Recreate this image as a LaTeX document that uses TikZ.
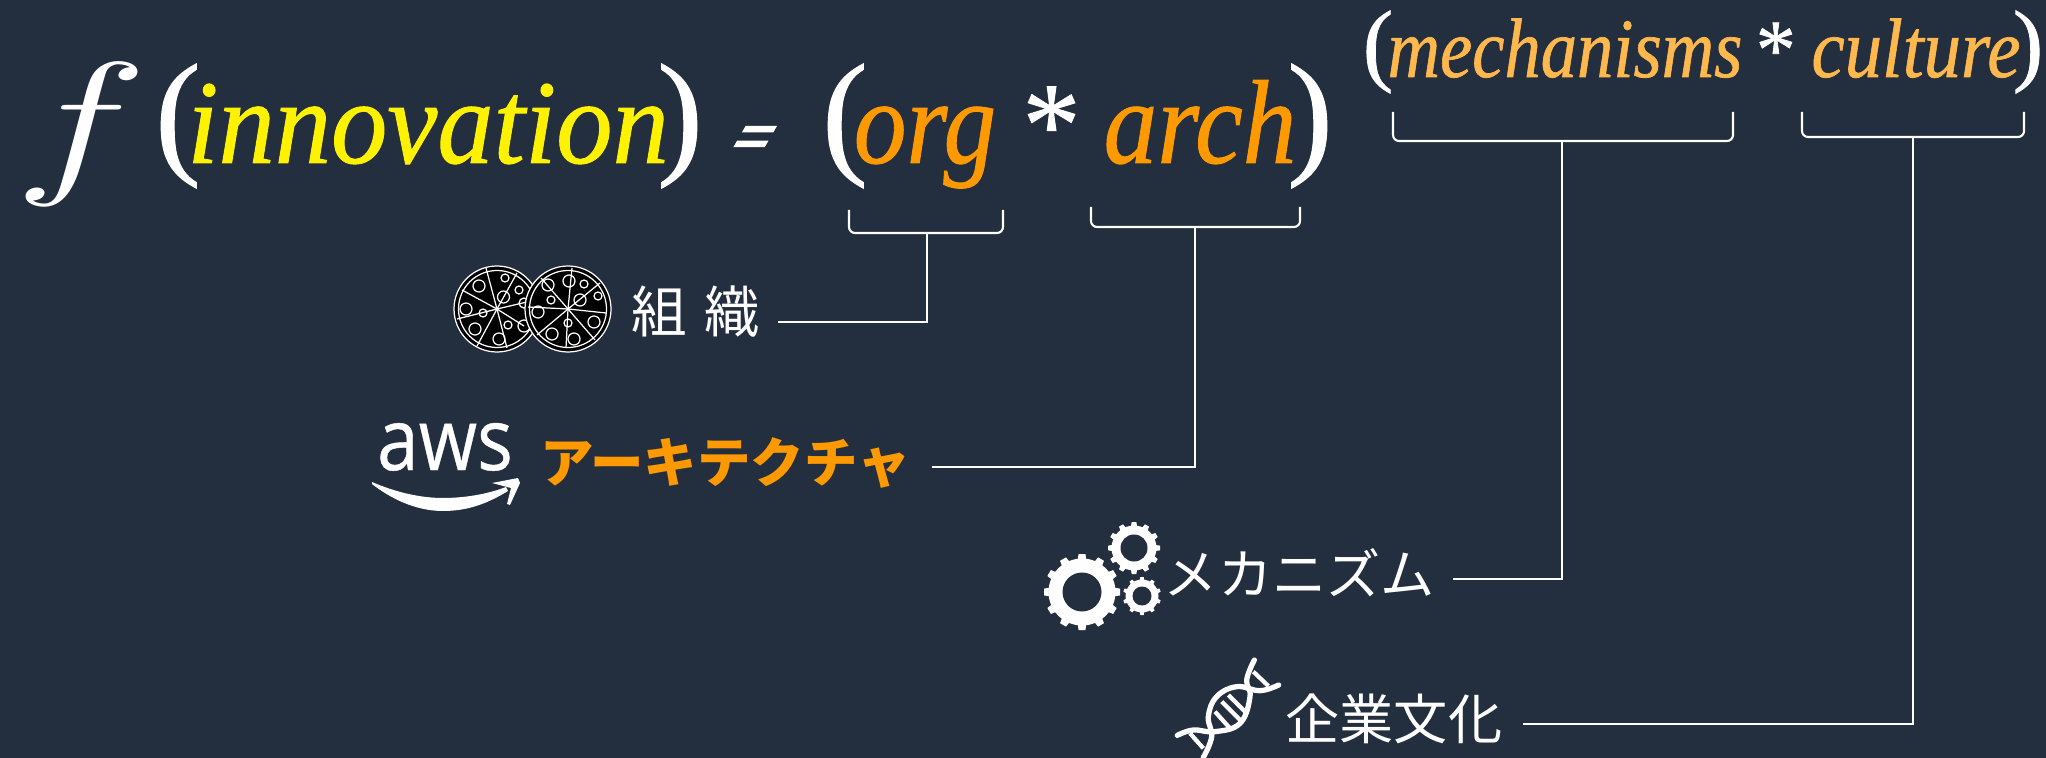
\documentclass[tikz,border=0pt]{standalone}
\usepackage{fontspec}
\setmainfont{Liberation Serif}
\newfontfamily\eqfont[FakeBold=0.8]{Liberation Serif}
\newfontfamily\eqsign[FakeSlant=0.7,FakeBold=4]{Liberation Serif}
\newfontfamily\jpfont{Noto Sans CJK JP}
\newfontfamily\logofont[FakeBold=0.5]{Open Sans}
\usetikzlibrary{calc}

\definecolor{squid}{HTML}{232F3E}
\definecolor{awsorange}{HTML}{FF9900}
\definecolor{softorange}{HTML}{FFB84D}

\newcommand{\gearicon}[5]{% centre, outer, body, hole, teeth
    \fill[white] #1 circle (#3);
    \pgfmathsetmacro{\gearstep}{360/#5}
    \foreach \k in {1,...,#5} {
        \fill[white, shift={#1}, rotate=\k*\gearstep]
            (-0.13*#2,0.75*#2) -- (-0.09*#2,#2) -- (0.09*#2,#2) -- (0.13*#2,0.75*#2) -- cycle;
    }
    \fill[squid] #1 circle (#4);
}

\newcommand{\pizzaicon}[3]{% centre, cuts, toppings
    \begin{scope}[shift={#1}]
        \filldraw[black, draw=white, line width=0.35pt] (0,0) circle (43);
        \draw[white, line width=0.35pt] (0,0) circle (38.5);
        \foreach \dx/\dy in {#2} {
            \draw[white, line width=0.35pt] (0,0) -- (\dx,\dy);
        }
        \foreach \dx/\dy/\r in {#3} {
            \draw[white, line width=0.35pt] (\dx,\dy) circle (\r);
        }
    \end{scope}
}

\begin{document}
\begin{tikzpicture}[x=0.01cm, y=-0.01cm,
    wire/.style = {white, line width=0.6pt},
    brace/.style = {wire, rounded corners=0.6mm},
    eqbig/.style = {inner sep=0pt, anchor=base, xscale=0.88, font=\eqfont\itshape\fontsize{34}{40}\selectfont},
    eqsmall/.style = {inner sep=0pt, anchor=base, xscale=0.86, font=\eqfont\itshape\fontsize{24}{30}\selectfont},
    parbig/.style = {inner sep=0pt, anchor=base, white, font=\eqfont\fontsize{39}{44}\selectfont},
    parsmall/.style = {inner sep=0pt, anchor=base, white, font=\eqfont\fontsize{26}{30}\selectfont},
    labeltext/.style = {white, anchor=east, inner xsep=5pt, inner ysep=0pt, text height=8.6pt, text depth=0pt,
        font=\jpfont\fontsize{15.4}{17}\selectfont},
    strand/.style = {white, line width=1.5pt, line cap=round},
    rung/.style = {white, line width=1.2pt}]

    \fill[squid] (0,0) rectangle (2046,758);
    \useasboundingbox (0,0) rectangle (2046,758);

    % big formula
    \node[inner sep=0pt, anchor=base, white, xscale=3.1, yscale=2.2, font=\fontsize{20}{24}\selectfont] (func) at (81,175) {$f$};
    \node[parbig] (inleft) at (178,159) {(};
    \node[eqbig, yellow, xscale=1.07] (innovation) at (428,163) {innovation};
    \node[parbig] (inright) at (680,159) {)};
    \node[inner sep=0pt, anchor=base, white, xscale=0.62, yscale=0.75, font=\eqsign\fontsize{28}{30}\selectfont] (equals) at (741,161) {=};
    \node[parbig] (orgleft) at (845,159) {(};
    \node[eqbig, awsorange] (org) at (925,163) {org};
    \node[eqbig, white, xscale=1.1] (times) at (1046,165) {*};
    \node[eqbig, awsorange, xscale=1.02] (arch) at (1200,163) {arch};
    \node[parbig] (orgright) at (1310,159) {)};

    \node[parsmall] (mechleft) at (1378,74) {(};
    \node[eqsmall, softorange] (mechanisms) at (1565,77) {mechanisms};
    \node[eqsmall, white, xscale=1.1] (timessmall) at (1772,78) {*};
    \node[eqsmall, softorange, xscale=1.03] (culture) at (1916,77) {culture};
    \node[parsmall] (mechright) at (2028,74) {)};

    % labels
    \node[labeltext, text height=5.9pt, font=\jpfont\fontsize{15.8}{18}\selectfont] (orglabel) at (778,322) {組\hspace{0.3em}織};
    \node[labeltext, awsorange, inner xsep=5.9pt, font=\jpfont\bfseries\fontsize{15.2}{17}\selectfont] (archlabel) at (932,467) {アーキテクチャ};
    \node[labeltext] (mechlabel) at (1453,579) {メカニズム};
    \node[labeltext, inner xsep=5.7pt] (culturelabel) at (1523,724) {企業文化};

    % brackets
    \coordinate (orgtl) at (849,210);
    \coordinate (orgtr) at (1003,210);
    \coordinate (orgstem) at (927,233);
    \coordinate (archtl) at (1091,207);
    \coordinate (archtr) at (1300,207);
    \coordinate (archstem) at (1195,227);
    \coordinate (mechtl) at (1393,112);
    \coordinate (mechtr) at (1733,112);
    \coordinate (mechstem) at (1562,141);
    \coordinate (culttl) at (1802,112);
    \coordinate (culttr) at (2024,112);
    \coordinate (cultstem) at (1913,137);

    \draw[brace] (orgtl) |- (orgstem) -| (orgtr);
    \draw[brace] (archtl) |- (archstem) -| (archtr);
    \draw[brace] (mechtl) |- (mechstem) -| (mechtr);
    \draw[brace] (culttl) |- (cultstem) -| (culttr);

    \draw[wire] (orgstem) |- (orglabel.east);
    \draw[wire] (archstem) |- (archlabel.east);
    \draw[wire] (mechstem) |- (mechlabel.east);
    \draw[wire] (cultstem) |- (culturelabel.east);

    % pizzas
    \pizzaicon{(497,309)}
        {-11/-41, 20/-36, 34/-8, 27/17, 10/39, -20/37, -40/10, -35/-19}
        {-18/-23/6, 8/-31/4, 22/-19/4, 6.5/-12/6, -31/0/6, -14/4/4, -22/20/6, 2/30/6, 11/16/4, 27/17/6, 27/-6/5}
    \pizzaicon{(568,309)}
        {4/-41, 32/-26, 38/4, 27/31, -2/39, -31/26, -40/-2, -27/-31}
        {1/-28/6, 16/-25/4, 30/-13/4, 12/-9/6, -20/-24/6, -17/-9/4, -30/3/6, 26/13/6, 0/14/4, 6/30/6, -16/25/6}

    % aws logo
    \node[inner sep=0pt, anchor=base, white, xscale=0.87, font=\logofont\fontsize{24.5}{28}\selectfont] (awstext) at (445,470) {aws};
    \fill[white] (372,482) .. controls (395,492) and (420,498) .. (443,498)
        .. controls (465,498) and (488,494) .. (506,487)
        -- (508,491) .. controls (490,502) and (470,511) .. (443,511)
        .. controls (415,511) and (390,498) .. (372,484) -- cycle;
    \fill[white] (492,483) -- (518,478) -- (520,483) -- (510,505) -- (507,504) -- (511,488) -- cycle;

    % gears
    \gearicon{(1082,592)}{38}{33.5}{19.5}{12}
    \gearicon{(1134,548)}{26}{22.5}{13.5}{12}
    \gearicon{(1142,596)}{19}{16.5}{9.5}{10}

    % dna
    \begin{scope}[shift={(1020,500)}, scale=1/3]
        \draw[strand] plot [smooth, tension=0.7] coordinates {(703,480) (680,540) (690,590) (660,670) (585,695) (520,690) (472,706)};
        \draw[strand] plot [smooth, tension=0.7] coordinates {(776,555) (720,572) (650,560) (590,590) (565,650) (575,710) (550,772)};
        \draw[rung] (700,515) -- (745,558);
        \draw[rung] (605,605) -- (660,660);
        \draw[rung] (625,585) -- (675,635);
        \draw[rung] (585,635) -- (630,685);
        \draw[rung] (510,700) -- (550,745);
    \end{scope}
\end{tikzpicture}
\end{document}
